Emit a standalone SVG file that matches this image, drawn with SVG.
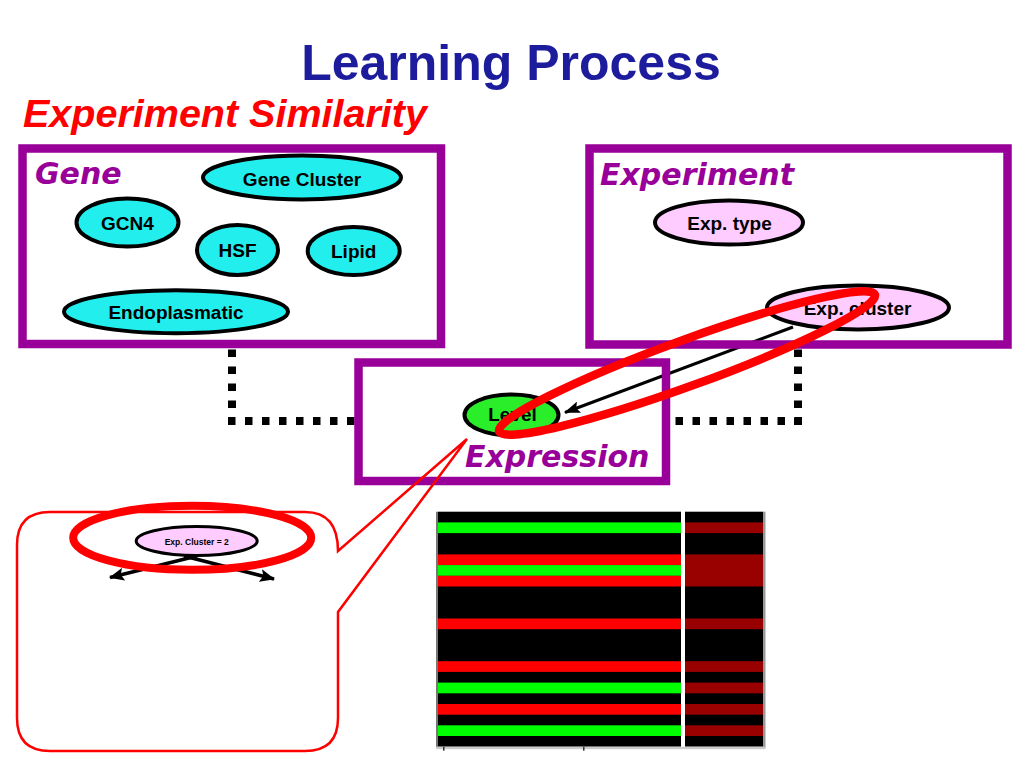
<svg xmlns="http://www.w3.org/2000/svg" width="1024" height="768" viewBox="0 0 1024 768">
<defs>
<style>
.title{font-family:"Liberation Sans",Arial,sans-serif;font-weight:bold;font-size:50px;fill:#1c1c9c}
.sub{font-family:"Liberation Sans",Arial,sans-serif;font-weight:bold;font-style:italic;font-size:39.5px;fill:#ff0000}
.box{fill:none;stroke:#990099;stroke-width:8.5}
.head{font-family:"DejaVu Sans",Verdana,sans-serif;font-weight:bold;font-style:italic;font-size:30px;fill:#990099}
.gene{fill:#22eeee;stroke:#000;stroke-width:4}
.exp{fill:#ffccff;stroke:#000;stroke-width:4}
.lvl{fill:#2bee2b;stroke:#000;stroke-width:4}
.lbl{font-family:"Liberation Sans",Arial,sans-serif;font-weight:bold;font-size:19px;fill:#000;text-anchor:middle}
.dots{fill:none;stroke:#000;stroke-width:8;stroke-dasharray:7.5 9.5}
.hl{fill:none;stroke:#ff0000}
.g{fill:#00ff00}.r{fill:#ff0000}.d{fill:#990000}
</style>
<marker id="ah" markerUnits="userSpaceOnUse" markerWidth="16" markerHeight="12" refX="15" refY="6" orient="auto">
<path d="M0,0 L16,6 L0,12 L3,6 z" fill="#000"/>
</marker>
<marker id="ah2" markerUnits="userSpaceOnUse" markerWidth="15" markerHeight="13" refX="14" refY="6.5" orient="auto">
<path d="M0,0 L15,6.5 L0,13 L3,6.5 z" fill="#000"/>
</marker>
</defs>
<rect width="1024" height="768" fill="#fff"/>
<text class="title" x="511" y="80" text-anchor="middle">Learning Process</text>
<text class="sub" x="23" y="127">Experiment Similarity</text>

<g id="connectors">
<path class="dots" d="M232,349.5 V417"/>
<path class="dots" d="M228,421 H355"/>
<path class="dots" d="M798,425 V349"/>
<path class="dots" d="M802,421 H670"/>
<line x1="793" y1="327" x2="565" y2="412.5" stroke="#000" stroke-width="3" marker-end="url(#ah)"/>
</g>

<g id="gene">
<rect class="box" x="22.5" y="148.5" width="418.5" height="195.5"/>
<text class="head" x="35" y="184">Gene</text>
<g id="gene-cluster"><ellipse class="gene" cx="302" cy="177.5" rx="99" ry="22"/><text class="lbl" x="302" y="186">Gene Cluster</text></g>
<g id="gcn4"><ellipse class="gene" cx="127.5" cy="222.5" rx="51" ry="24"/><text class="lbl" x="127.5" y="229.5">GCN4</text></g>
<g id="hsf"><ellipse class="gene" cx="237.5" cy="250" rx="40.5" ry="25"/><text class="lbl" x="237.5" y="257">HSF</text></g>
<g id="lipid"><ellipse class="gene" cx="353.7" cy="251" rx="46" ry="24"/><text class="lbl" x="353.7" y="258">Lipid</text></g>
<g id="endoplasmatic"><ellipse class="gene" cx="176" cy="311.7" rx="112" ry="21.5"/><text class="lbl" x="176" y="319">Endoplasmatic</text></g>
</g>

<g id="experiment">
<rect class="box" x="589.5" y="148.5" width="418" height="196"/>
<text class="head" x="600" y="185" font-size="30.8">Experiment</text>
<g id="exp-type"><ellipse class="exp" cx="729" cy="222.5" rx="74" ry="22"/><text class="lbl" x="729.5" y="229.5">Exp. type</text></g>
<g id="exp-cluster"><ellipse class="exp" cx="858" cy="307.5" rx="91" ry="22"/><text class="lbl" x="857.5" y="314.5">Exp. cluster</text></g>
</g>

<g id="expression">
<rect class="box" x="358.5" y="362.5" width="307.5" height="118.5"/>
<g id="level"><ellipse class="lvl" cx="511.5" cy="415" rx="47" ry="20.5"/><text class="lbl" x="512.5" y="421">Level</text></g>
<text class="head" x="465" y="467">Expression</text>
</g>

<g id="callout">
<path d="M50,512 H305 Q338,512 338,551 L467,439 L338,612 V718 Q338,751 305,751 H50 Q17,751 17,718 V545 Q17,512 50,512 Z" fill="none" stroke="#ff0000" stroke-width="2.5" stroke-linejoin="miter"/>
<g id="exp-cluster-2"><ellipse cx="196.7" cy="541" rx="60.5" ry="14.5" fill="#ffccff" stroke="#000" stroke-width="3"/>
<text x="196.7" y="544.5" text-anchor="middle" font-family="Liberation Sans, Arial, sans-serif" font-weight="bold" font-size="8.5">Exp. Cluster = 2</text></g>
<line x1="197" y1="556" x2="110" y2="577.5" stroke="#000" stroke-width="3.5" marker-end="url(#ah2)"/>
<line x1="184" y1="556" x2="274" y2="579" stroke="#000" stroke-width="3.5" marker-end="url(#ah2)"/>
<ellipse class="hl" cx="192.2" cy="537.8" rx="119" ry="32" stroke-width="8"/>
</g>

<g id="heatmap">
<rect x="438" y="511.7" width="243" height="235" fill="#000"/>
<rect x="685" y="511.7" width="78" height="235" fill="#000"/>
<rect class="g" x="438" y="522.4" width="243" height="10.7"/>
<rect class="r" x="438" y="554.4" width="243" height="10.7"/>
<rect class="g" x="438" y="565.1" width="243" height="10.7"/>
<rect class="r" x="438" y="575.8" width="243" height="10.7"/>
<rect class="r" x="438" y="618.5" width="243" height="10.7"/>
<rect class="r" x="438" y="661.2" width="243" height="10.7"/>
<rect class="g" x="438" y="682.6" width="243" height="10.7"/>
<rect class="r" x="438" y="704" width="243" height="10.7"/>
<rect class="g" x="438" y="725.3" width="243" height="10.7"/>
<rect class="d" x="685" y="522.4" width="78" height="10.7"/>
<rect class="d" x="685" y="554.4" width="78" height="32.1"/>
<rect class="d" x="685" y="618.5" width="78" height="10.7"/>
<rect class="d" x="685" y="661.2" width="78" height="10.7"/>
<rect class="d" x="685" y="682.6" width="78" height="10.7"/>
<rect class="d" x="685" y="704" width="78" height="10.7"/>
<rect class="d" x="685" y="725.3" width="78" height="10.7"/>
<rect x="436" y="511.7" width="2" height="237" fill="#777"/>
<rect x="763" y="511.7" width="2.5" height="237" fill="#999"/>
<rect x="436" y="746.7" width="329" height="2.5" fill="#ccc"/>
<rect x="443" y="746.7" width="1.5" height="4" fill="#333"/>
<rect x="583" y="746.7" width="1.5" height="4" fill="#333"/>
</g>

<ellipse id="highlight" class="hl" cx="687" cy="363" rx="200" ry="23" stroke-width="8.5" transform="rotate(-20 687 363)"/>
</svg>
